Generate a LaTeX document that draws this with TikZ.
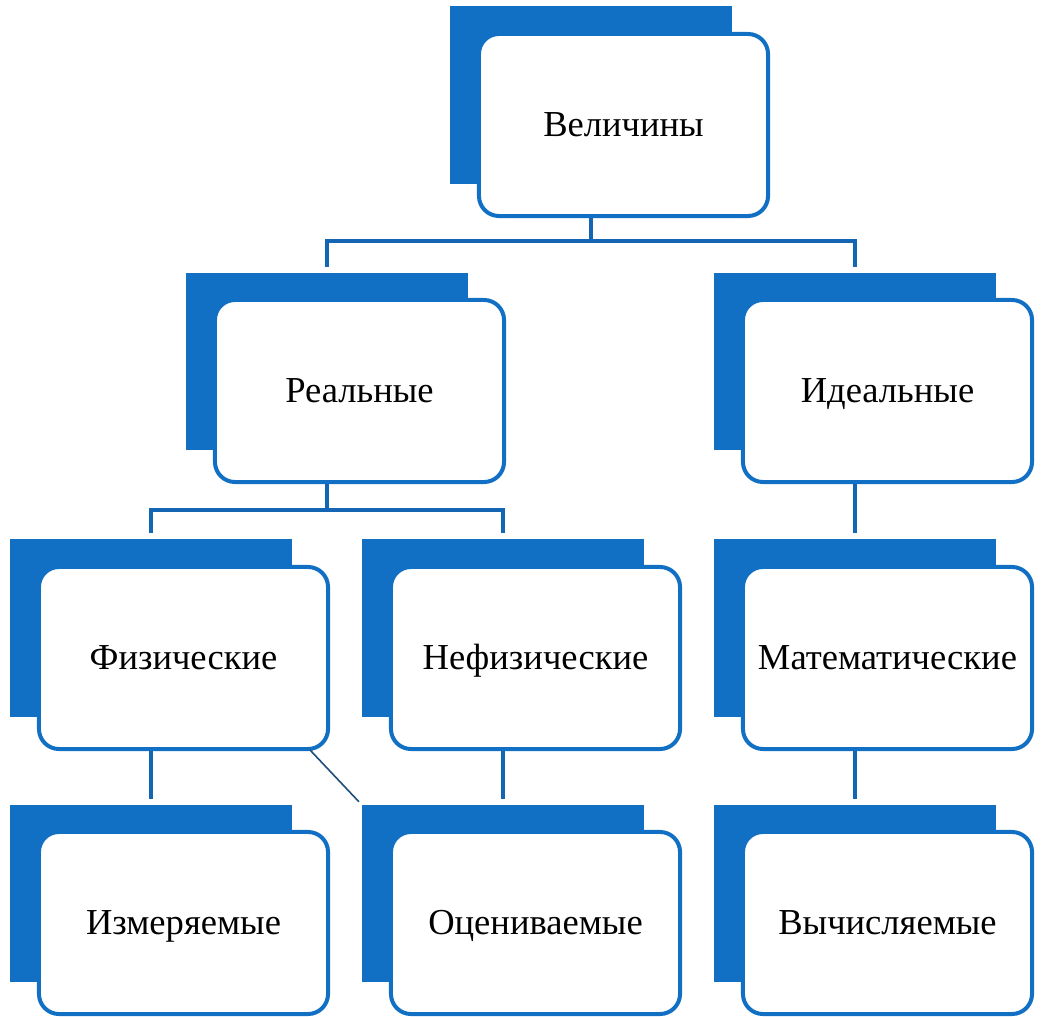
\documentclass[tikz,border=0pt]{standalone}
\usepackage{fontspec}
\setmainfont{Liberation Serif}
\definecolor{boxblue}{HTML}{1270C4}
\definecolor{linkblue}{HTML}{1565B5}
\definecolor{diagblue}{HTML}{1F4E79}

\begin{document}
\begin{tikzpicture}[x=0.025cm, y=-0.025cm,
  main/.style = {draw=boxblue, line width=1mm, rounded corners=5mm, fill=white, minimum width=72.25mm, minimum height=45.5mm, text height=17pt, text depth=0pt, font=\fontsize{26}{31}\selectfont},
  back/.style = {fill=boxblue, minimum width=70.5mm, minimum height=44.25mm, inner sep=0pt},
  link/.style = {draw=linkblue, line width=1mm, shorten >=1.5mm}]

\useasboundingbox (0,0) rectangle (1041,1017);

\node[back] (velB) at (591,95) {};
\node[back] (realB) at (327,361.5) {};
\node[back] (idealB) at (855,361.5) {};
\node[back] (fizB) at (151,628) {};
\node[back] (nefizB) at (503,628) {};
\node[back] (matB) at (855,628) {};
\node[back] (izmB) at (151,893.5) {};
\node[back] (ocenB) at (503,893.5) {};
\node[back] (vychB) at (855,893.5) {};

\node[main] (vel) at (623.5,125) {Величины};
\node[main] (real) at (359.5,391) {Реальные};
\node[main] (ideal) at (887.5,391) {Идеальные};
\node[main] (fiz) at (183.5,658) {Физические};
\node[main] (nefiz) at (535.5,658) {Нефизические};
\node[main] (mat) at (887.5,658) {Математические};
\node[main] (izm) at (183.5,923) {Измеряемые};
\node[main] (ocen) at (535.5,923) {Оцениваемые};
\node[main] (vych) at (887.5,923) {Вычисляемые};

\coordinate (t1) at (591,241);
\coordinate (t2) at (327,510);
\coordinate (d1) at (310,750);

\draw[link, shorten >=0pt] (vel.south -| t1) to (t1);
\draw[link] (t1) -| (realB.north);
\draw[link] (t1) -| (idealB.north);
\draw[link, shorten >=0pt] (real.south -| t2) to (t2);
\draw[link] (t2) -| (fizB.north);
\draw[link] (t2) -| (nefizB.north);
\draw[link] (ideal.south -| idealB) to (matB.north);
\draw[link] (fiz.south -| fizB) to (izmB.north);
\draw[link] (nefiz.south -| nefizB) to (ocenB.north);
\draw[link] (mat.south -| matB) to (vychB.north);
\draw[diagblue, line width=0.4mm, shorten >=1mm] (d1) to (ocenB.north west);

\end{tikzpicture}
\end{document}
